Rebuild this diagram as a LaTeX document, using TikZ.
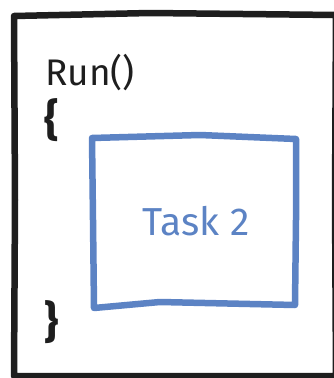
\documentclass[tikz,border=0pt]{standalone}
\usepackage{fontspec}
\setmainfont{Fira Sans}
\usepackage{tikz}
\usetikzlibrary{positioning}
\usepackage{xcolor}
\definecolor{skblack}{RGB}{30,30,30}
\definecolor{skblue}{RGB}{92,131,196}
\tikzstyle{frame} = [draw=skblack, line width=6.5pt, line join=round, line cap=round]
\tikzstyle{taskbox} = [draw=skblue, line width=6.5pt, line join=round, line cap=round]
\tikzstyle{code} = [font=\fontsize{37}{39}\selectfont, text=skblack, inner sep=0pt]
\tikzstyle{brace} = [font=\fontsize{44}{44}\bfseries, text=skblack, inner sep=0pt]

\begin{document}
\begin{tikzpicture}[x=1pt, y=-1pt]
\useasboundingbox (0,0) rectangle (334,378);
% outer sketch frame
\draw[frame] (14,16) -- (150,13) -- (336,15) -- (335,200) -- (336,376) -- (150,376) -- (14,376) -- (15,200) -- cycle;
% run body
\node (run) [code, anchor=west] at (45,73) {Run()};
\node (open) [brace, anchor=north west] at (44,98) {\{};
\node (close) [brace, anchor=south west] at (44,344) {\}};
% inner task
\draw[taskbox] (92,138) -- (200,135) -- (296,139) -- (296,220) -- (295,305) -- (160,302) -- (94,308) -- (93,220) -- cycle;
\node (task) [font=\fontsize{39}{41}\selectfont, text=skblue] at (196,221) {Task 2};
\end{tikzpicture}
\end{document}
